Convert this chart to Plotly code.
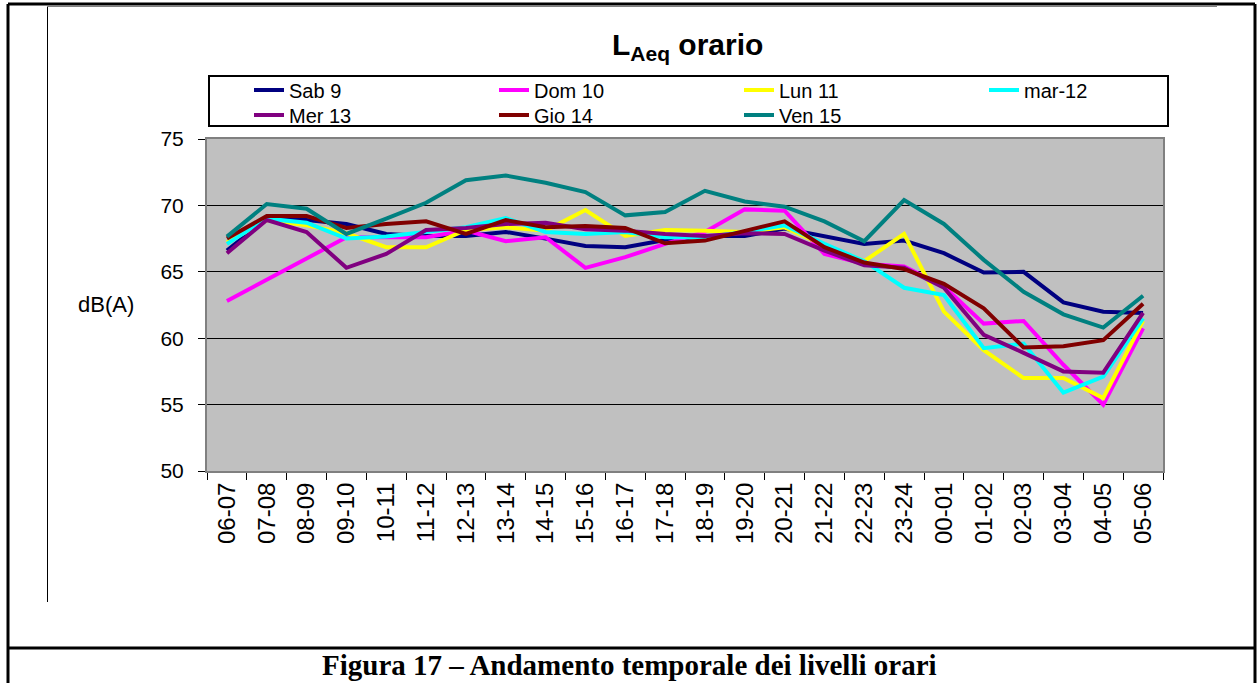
import plotly.graph_objects as go

# fasce orarie (asse x)
fasce = ['06-07', '07-08', '08-09', '09-10', '10-11', '11-12', '12-13', '13-14',
         '14-15', '15-16', '16-17', '17-18', '18-19', '19-20', '20-21', '21-22',
         '22-23', '23-24', '00-01', '01-02', '02-03', '03-04', '04-05', '05-06']

# LAeq orario per giorno, dB(A)
sab_9 = [66.6, 69.0, 68.9, 68.6, 67.85, 67.7, 67.7, 68.0, 67.5, 66.95, 66.85, 67.4,
         67.7, 67.7, 68.25, 67.7, 67.1, 67.35, 66.4, 64.95, 65.0, 62.7, 62.0, 61.9]
dom_10 = [62.8, 64.4, 66.0, 67.6, 67.6, 67.6, 68.1, 67.3, 67.6, 65.3, 66.1, 67.1,
          68.0, 69.7, 69.6, 66.35, 65.6, 65.4, 63.9, 61.1, 61.3, 58.0, 55.0, 60.75]
lun_11 = [67.2, 68.9, 68.5, 67.9, 66.85, 66.85, 68.15, 68.35, 68.1, 69.65, 67.7, 68.15,
          68.1, 68.0, 68.35, 67.0, 65.8, 67.85, 62.0, 59.1, 57.0, 57.0, 55.5, 61.3]
mar_12 = [67.1, 69.0, 68.7, 67.5, 67.65, 68.0, 68.35, 69.05, 68.0, 67.85, 68.0, 67.6,
          67.6, 68.0, 68.5, 67.1, 65.8, 63.8, 63.25, 59.25, 59.6, 55.9, 57.1, 61.5]
mer_13 = [66.4, 68.9, 68.0, 65.3, 66.35, 68.15, 68.3, 68.6, 68.7, 68.2, 68.1, 67.85,
          67.7, 67.9, 67.85, 66.6, 65.5, 65.3, 63.8, 60.25, 58.9, 57.5, 57.4, 61.9]
gio_14 = [67.5, 69.2, 69.2, 68.3, 68.6, 68.8, 67.85, 68.9, 68.35, 68.45, 68.3, 67.15,
          67.35, 68.1, 68.8, 66.85, 65.7, 65.2, 64.1, 62.25, 59.3, 59.4, 59.85, 62.6]
ven_15 = [67.65, 70.1, 69.75, 67.85, 69.0, 70.2, 71.9, 72.25, 71.7, 71.0, 69.25, 69.5,
          71.1, 70.3, 69.9, 68.8, 67.3, 70.4, 68.6, 65.9, 63.5, 61.8, 60.8, 63.2]

# nome, valori, colore, riga della legenda
serie = [
    ('Sab 9', sab_9, '#000080', 'legend'),
    ('Dom 10', dom_10, '#FF00FF', 'legend'),
    ('Lun 11', lun_11, '#FFFF00', 'legend'),
    ('mar-12', mar_12, '#00FFFF', 'legend'),
    ('Mer 13', mer_13, '#800080', 'legend2'),
    ('Gio 14', gio_14, '#800000', 'legend2'),
    ('Ven 15', ven_15, '#008080', 'legend2'),
]

W, H = 1258, 683
SANS = 'Liberation Sans, Arial, sans-serif'
SERIF = 'Liberation Serif, Times New Roman, serif'


def px(x):
    return x / W


def py(y):
    return 1 - y / H


fig = go.Figure()

for nome, valori, colore, leg in serie:
    fig.add_trace(go.Scatter(
        x=fasce, y=valori, mode='lines', name=nome, legend=leg,
        line=dict(color=colore, width=4)
    ))

# cornice della pagina e del grafico
linee = [
    (8, 4, 8, H, 'black', 3),
    (8, 4, 1255, 4, 'black', 3),
    (1255, 4, 1255, H, 'black', 3),
    (8, 648, 1255, 648, 'black', 3),
    (47.5, 5, 47.5, 602, 'black', 1),
    (47, 6, 1217, 6, 'gray', 2),
]
shapes = [dict(type='line', xref='paper', yref='paper',
               x0=px(a), y0=py(b), x1=px(c), y1=py(d),
               line=dict(color=col, width=w))
          for a, b, c, d, col, w in linee]
# riquadro della legenda
shapes.append(dict(type='rect', xref='paper', yref='paper',
                   x0=px(209), y0=py(126), x1=px(1168), y1=py(76),
                   line=dict(color='black', width=2), fillcolor='white', layer='below'))

leg_style = dict(
    orientation='h', xanchor='left', yanchor='middle',
    bgcolor='rgba(0,0,0,0)', borderwidth=0,
    font=dict(family=SANS, size=20, color='black'),
    entrywidth=200, itemwidth=30, traceorder='normal',
)


def testo(t, x, y, font):
    return dict(text=t, xref='paper', yref='paper', x=px(x), y=py(y),
                xanchor='center', yanchor='middle', showarrow=False, font=font)


fig.update_layout(
    width=W, height=H, autosize=False,
    margin=dict(l=0, r=0, t=0, b=0),
    paper_bgcolor='white',
    plot_bgcolor='#C0C0C0',
    font=dict(family=SANS, size=20, color='black'),
    shapes=shapes,
    showlegend=True,
    legend=dict(x=px(249), y=py(90), **leg_style),
    legend2=dict(x=px(249), y=py(115), **leg_style),
    xaxis=dict(
        domain=[px(207), px(1163)],
        type='category', range=[-0.5, 23.5],
        tickangle=-90, tickfont=dict(family=SANS, size=24),
        ticks='outside', ticklen=7, tickcolor='black', tickson='boundaries',
        showgrid=False, showline=True, linecolor='#808080', linewidth=2, mirror=True,
        automargin=False,
    ),
    yaxis=dict(
        domain=[py(471), py(139)],
        range=[50, 75], dtick=5,
        tickfont=dict(family=SANS, size=21),
        ticks='outside', ticklen=7, tickcolor='black', ticklabelstandoff=10,
        showgrid=True, gridcolor='black', gridwidth=1,
        showline=True, linecolor='#808080', linewidth=2, mirror=True,
        zeroline=False, automargin=False,
    ),
    annotations=[
        testo('<b>L<sub>Aeq</sub> orario</b>', 687, 47,
              dict(family=SANS, size=30, color='black')),
        testo('dB(A)', 106, 305, dict(family=SANS, size=22, color='black')),
        testo('<b>Figura 17 – Andamento temporale dei livelli orari</b>', 630, 665,
              dict(family=SERIF, size=29, color='black')),
    ],
)

fig.write_html('out.html', config={'displayModeBar': False},
               post_script="document.body.style.margin='0px';")
